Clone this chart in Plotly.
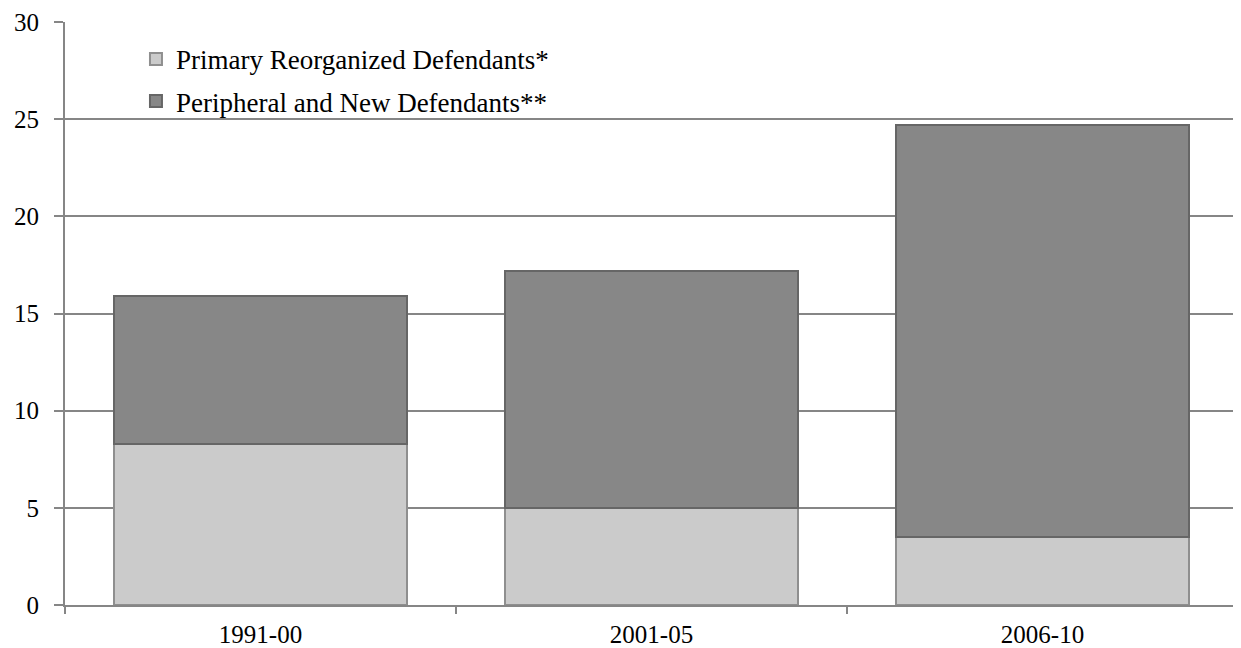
import plotly.graph_objects as go

categories = ["1991-00", "2001-05", "2006-10"]
primary = [8.3, 5.0, 3.5]
peripheral = [7.6, 12.2, 21.2]
series_names = ["Primary Reorganized Defendants*", "Peripheral and New Defendants**"]
y_ticks = [0, 5, 10, 15, 20, 25, 30]

font_family = "Liberation Serif"

fig = go.Figure()
fig.add_trace(go.Bar(
    x=categories, y=primary, name=series_names[0],
    marker=dict(color="#cbcbcb", line=dict(color="#8f8f8f", width=2)),
    legendgroup="a",
))
fig.add_trace(go.Bar(
    x=categories, y=peripheral, name=series_names[1],
    marker=dict(color="#878787", line=dict(color="#666666", width=2)),
    legendgroup="b",
))

# page body has an 8px default margin, so the figure is shrunk by 8px to fit
fig.update_layout(
    width=1233, height=640,
    barmode="stack", bargap=0.25,
    plot_bgcolor="white", paper_bgcolor="white",
    margin=dict(l=57, r=3, t=14, b=43),
    font=dict(family=font_family, size=25, color="black"),
    showlegend=True,
    legend=dict(
        x=0.0605, y=0.978, xanchor="left", yanchor="top",
        traceorder="grouped", tracegroupgap=4,
        bgcolor="rgba(0,0,0,0)", font=dict(size=27),
        itemwidth=30,
    ),
)
fig.update_xaxes(
    type="category", automargin=False,
    showline=True, linecolor="#868686", linewidth=2,
    ticks="outside", tickson="boundaries", ticklen=7, tickcolor="#868686", tickwidth=2,
    ticklabelstandoff=6,
    showgrid=False, tickfont=dict(size=25),
)
fig.update_yaxes(
    range=[0, 30], tickvals=y_ticks, automargin=False,
    showline=True, linecolor="#868686", linewidth=2,
    ticks="outside", ticklen=9, tickcolor="#868686", tickwidth=2,
    ticklabelstandoff=10,
    showgrid=True, gridcolor="#868686", gridwidth=1.5,
    zeroline=False, tickfont=dict(size=25),
)

fig.write_html("out.html")
